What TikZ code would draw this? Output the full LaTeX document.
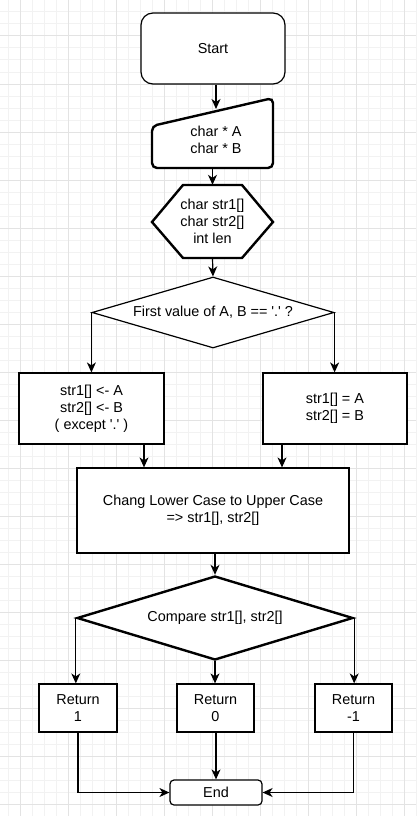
\documentclass[tikz,border=0pt]{standalone}
\usepackage{fontspec}
\setmainfont{Liberation Sans}
\usetikzlibrary{arrows.meta,shapes.geometric}
\begin{document}
\begin{tikzpicture}[x=1pt,y=-1pt,
  txt/.style={align=center, inner sep=0pt, font=\fontsize{14.4}{17}\selectfont, text=black},
  box/.style={txt, draw=black, line width=1.2pt, fill=white},
  thickline/.style={draw=black, line width=2.4pt, fill=white},
  conn/.style={draw=black, line width=1.2pt, -{Stealth[length=10pt,width=9pt,inset=3pt]}},
  minorgrid/.style={draw=black!5, line width=1pt},
  majorgrid/.style={draw=black!11, line width=1pt}]
\useasboundingbox (0,0) rectangle (416,816);
\fill[white] (0,0) rectangle (416,816);
% background grid
\foreach \x in {8,20,...,416} \draw[minorgrid] (\x,0) -- (\x,816);
\foreach \y in {0,12,...,816} \draw[minorgrid] (0,\y) -- (416,\y);
\foreach \x in {20,68,...,416} \draw[majorgrid] (\x,0) -- (\x,816);
\foreach \y in {36,84,...,816} \draw[majorgrid] (0,\y) -- (416,\y);

% Start
\node[box, rounded corners=12pt, minimum width=144pt, minimum height=71pt] (start) at (213,48.5) {Start};

% manual input
\draw[thickline, rounded corners=5pt] (212,168) -- (152,168) -- (152,126) -- (273,98) -- (273,168) -- cycle;
\node[inner sep=0pt, minimum width=121pt, minimum height=70pt] (inpbox) at (212.5,133) {};
\node[txt] (inp) at (216,140) {char * A\\char * B};
\coordinate (inptop) at (216,109);

% preparation hexagon
\draw[thickline] (152,222) -- (183,185) -- (242,185) -- (273,222) -- (242,258) -- (183,258) -- cycle;
\node[txt, minimum width=121pt, minimum height=73pt] (hex) at (212.5,221.5) {char str1[]\\char str2[]\\int len};

% decision 1
\node[box, diamond, aspect=3.4, minimum width=242pt, minimum height=71pt] (d1) at (213,312.5) {First value of A, B == \textquotesingle.\textquotesingle\ ?};

% branches
\node[box, minimum width=145pt, minimum height=71pt] (l) at (91.5,408.5) {str1[] <- A\\str2[] <- B\\( except \textquotesingle.\textquotesingle\ )};
\node[box, minimum width=144pt, minimum height=71pt] (r) at (335,408.5) {str1[] = A\\str2[] = B};

% big process
\node[box, minimum width=272pt, minimum height=85pt] (big) at (213,510.5) {Chang Lower Case to Upper Case\\=> str1[], str2[]};

% decision 2
\node[box, diamond, aspect=3.3, line width=2.4pt, minimum width=276pt, minimum height=84pt] (d2) at (215,618) {Compare str1[], str2[]};

% returns
\node[box, minimum width=78pt, minimum height=48pt] (r1) at (78,708) {Return\\1};
\node[box, minimum width=77pt, minimum height=48pt] (r0) at (215.5,708) {Return\\0};
\node[box, minimum width=77pt, minimum height=48pt] (r2) at (353.5,708) {Return\\-1};

% End
\node[box, rounded corners=4pt, minimum width=92pt, minimum height=25pt] (end) at (216,792.5) {End};

% connectors
\draw[conn] (start.south -| inptop) -- (inptop);
\draw[conn] (inpbox.south) -- (hex.north);
\draw[conn] (hex.south) -- (d1.north);
\draw[conn] (d1.west) -- (d1.west |- l.north);
\draw[conn] (d1.east) -- (d1.east |- r.north);
\draw[conn] ([xshift=52.5pt]l.south) -- ([xshift=52.5pt]l.south |- big.north);
\draw[conn] ([xshift=-53pt]r.south) -- ([xshift=-53pt]r.south |- big.north);
\draw[conn] (d2.north |- big.south) -- (d2.north);
\draw[conn] (d2.west) -- (d2.west |- r1.north);
\draw[conn] (d2.south) -- (d2.south |- r0.north);
\draw[conn] (d2.east) -- (d2.east |- r2.north);
\draw[conn] (r1.south) |- (end.west);
\draw[conn] (r0.south -| end.north) -- (end.north);
\draw[conn] (r2.south) |- (end.east);
\end{tikzpicture}
\end{document}
